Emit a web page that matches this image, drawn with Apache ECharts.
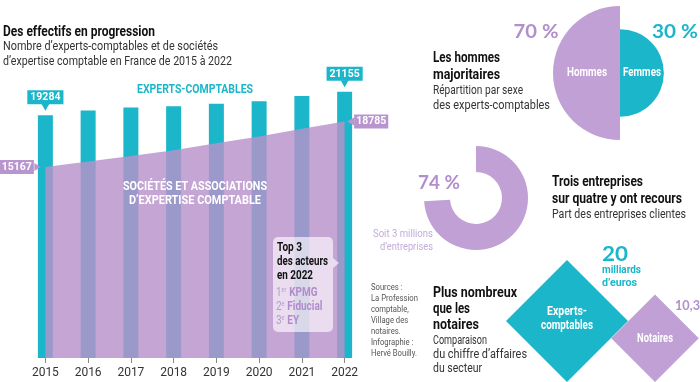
<!DOCTYPE html>
<html><head><meta charset="utf-8">
<script src="https://cdn.jsdelivr.net/npm/echarts@6/dist/echarts.min.js"></script>
<style>html,body{margin:0;padding:0;background:#fff}#c{width:700px;height:382px}</style>
</head><body><div id="c"></div>
<script>
// ---- data ----
const years = ['2015','2016','2017','2018','2019','2020','2021','2022'];
const experts = [19284, 19650, 19900, 20000, 20200, 20400, 20800, 21155];
const societes = [15167, 15600, 16050, 16500, 17050, 17600, 18200, 18785];
const genderLabels = ['Hommes', 'Femmes'];
const genderShare = [70, 30];
const clientShare = [74, 26];
const revenueLabels = ['Experts-\ncomptables', 'Notaires'];
const revenue = [20, 10.3];
const top3 = ['KPMG', 'Fiducial', 'EY'];
const top3Rank = [['1', 'er'], ['2', 'e'], ['3', 'e']];

// ---- style ----
const C = '#1bb6c9', P = '#c0a0d5', PD = '#b28fcc';
const F = "Roboto,'Liberation Sans',sans-serif";
const FR = "Lato,'Open Sans',sans-serif";
const fmt = v => String(v);

const mctx = document.createElement('canvas').getContext('2d');
function fitScale(text, size, weight, fam, target) {
  if (!target) return 1;
  mctx.font = weight + ' ' + size + 'px ' + fam;
  const w = Math.max(...String(text).split('\n').map(s => mctx.measureText(s).width));
  return target / w;
}
function T(x, y, text, size, weight, fill, align, target, fam, extra) {
  fam = fam || F;
  const s = fitScale(text, size, weight, fam, target);
  return Object.assign({
    type: 'text', x: x, y: y, z: 100, silent: true, scaleX: s,
    style: {
      text: text, fontSize: size, fontWeight: weight, fontFamily: fam,
      fill: fill, align: align || 'left', verticalAlign: 'middle'
    }
  }, extra || {});
}

const last = years.length - 1;
const barData = experts.map((v, i) => (i === 0 || i === last) ? { value: v, label: { show: true } } : v);
const lineData = societes.map((v, i) => (i === 0 || i === last) ? {
  value: v, label: { show: true, position: i === 0 ? 'left' : 'right', distance: i === 0 ? 11 : 9 }
} : v);

const gMax = Math.max(...genderShare);
const R0 = 67;
const gR = genderShare.map(v => R0 * Math.sqrt(v / gMax));
const revMax = Math.max(...revenue);
const D0 = 122;
const revSize = revenue.map(v => D0 * Math.sqrt(v / revMax));
const revX = [567, 655]; // label anchor x (layout)

const chart = echarts.init(document.getElementById('c'), null, { renderer: 'canvas' });
chart.setOption({
  animation: false,
  backgroundColor: '#fff',
  grid: [
    { left: 24, right: 334, top: 81, bottom: 24 },
    { left: 523, width: 176, bottom: 0, height: 10 }
  ],
  xAxis: [
    {
      gridIndex: 0, type: 'category', data: years,
      axisLine: { show: false },
      axisTick: { show: true, alignWithLabel: true, length: 5, lineStyle: { color: '#888' } },
      axisLabel: { color: '#333', fontSize: 12, fontFamily: F, margin: 9 }
    },
    { gridIndex: 1, type: 'category', data: revenueLabels, show: false }
  ],
  yAxis: [
    { gridIndex: 0, type: 'value', min: 0, max: 22000, show: false, splitLine: { show: false } },
    { gridIndex: 1, type: 'value', min: 0, max: 1, show: false }
  ],
  series: [
    {
      type: 'bar', xAxisIndex: 0, yAxisIndex: 0, data: barData, barWidth: 15,
      itemStyle: { color: C },
      label: {
        show: false, position: 'top', distance: 11, formatter: p => fmt(p.value),
        backgroundColor: C, color: '#fff', fontWeight: 'bold', fontSize: 10.5, fontFamily: F,
        padding: [2, 3, 1, 3]
      },
      markPoint: {
        silent: true, label: { show: false },
        itemStyle: { color: C },
        data: [0, last].map(i => ({
          coord: [years[i], experts[i]], symbol: 'triangle', symbolRotate: 180,
          symbolSize: [8, 7], symbolOffset: [0, -8]
        }))
      }
    },
    {
      type: 'line', xAxisIndex: 0, yAxisIndex: 0, data: lineData,
      symbol: 'circle', symbolSize: 1, showSymbol: true,
      itemStyle: { color: 'rgba(0,0,0,0)' },
      lineStyle: { width: 0 }, z: 3,
      areaStyle: { color: 'rgba(184,145,202,0.82)', opacity: 1 },
      label: {
        show: false, formatter: p => fmt(p.value),
        backgroundColor: '#b895cf', color: '#fff', fontWeight: 'bold', fontSize: 10.5, fontFamily: F,
        padding: [2, 2, 1, 2]
      },
      markPoint: {
        silent: true, label: { show: false },
        itemStyle: { color: '#b895cf' },
        data: [
          { coord: [years[0], societes[0]], symbol: 'triangle', symbolRotate: -90, symbolSize: [8, 6], symbolOffset: [-8, 0] },
          { coord: [years[last], societes[last]], symbol: 'triangle', symbolRotate: 90, symbolSize: [8, 7], symbolOffset: [6, 0] }
        ]
      }
    },
    {
      type: 'pie', center: [620, 73], radius: [0, gR[0]], startAngle: 90, clockwise: false, silent: true,
      label: { show: false }, labelLine: { show: false },
      data: [
        { value: genderShare[0], name: genderLabels[0], itemStyle: { color: P } },
        { value: genderShare[0], name: '', itemStyle: { color: 'rgba(0,0,0,0)' } }
      ]
    },
    {
      type: 'pie', center: [620, 73], radius: [0, gR[1]], startAngle: 90, clockwise: true, silent: true,
      label: { show: false }, labelLine: { show: false },
      data: [
        { value: genderShare[1], name: genderLabels[1], itemStyle: { color: C } },
        { value: genderShare[1], name: '', itemStyle: { color: 'rgba(0,0,0,0)' } }
      ]
    },
    {
      type: 'pie', center: [476, 198], radius: [26, 52], startAngle: 90, clockwise: true, silent: true,
      label: { show: false }, labelLine: { show: false },
      data: [
        { value: clientShare[0], name: 'clientes', itemStyle: { color: P } },
        { value: clientShare[1], name: 'autres', itemStyle: { color: 'rgba(0,0,0,0)' } }
      ]
    },
    {
      type: 'scatter', xAxisIndex: 1, yAxisIndex: 1, clip: false, silent: true,
      data: revenue.map((v, i) => ({
        value: [i, 0], name: revenueLabels[i], symbol: 'diamond',
        symbolSize: revSize[i], symbolOffset: [0, -revSize[i] / 2],
        itemStyle: { color: i === 0 ? C : P, opacity: 1 }
      })),
      label: { show: false }
    }
  ],
  graphic: { elements: [
    T(3, 32, 'Des effectifs en progression', 14.5, 'bold', '#111', 'left', 152),
    T(3, 47, 'Nombre d’experts-comptables et de sociétés', 12.5, 'normal', '#333', 'left', 215),
    T(3, 62, 'd’expertise comptable en France de 2015 à 2022', 12.5, 'normal', '#333', 'left', 229),
    T(195, 90, 'EXPERTS-COMPTABLES', 13, 'bold', C, 'center', 116),
    T(195, 187, 'SOCIÉTÉS ET ASSOCIATIONS', 13, 'bold', '#fff', 'center', 144),
    T(195, 201, 'D’EXPERTISE COMPTABLE', 13, 'bold', '#fff', 'center', 132),
    { type: 'rect', z: 90, silent: true, shape: { x: 273, y: 237, width: 60, height: 95, r: 5 }, style: { fill: 'rgba(255,255,255,0.62)' } },
    { type: 'polygon', z: 90, silent: true, shape: { points: [[333, 258], [339, 263], [333, 268]] }, style: { fill: 'rgba(255,255,255,0.62)' } },
    T(277, 248, 'Top 3', 13, 'bold', '#111', 'left', 25),
    T(277, 262, 'des acteurs', 13, 'bold', '#111', 'left', 51),
    T(277, 276, 'en 2022', 13, 'bold', '#111', 'left', 36),
    ...top3.map((n, i) => ({
      type: 'text', x: 276, y: 293 + i * 14, z: 100, silent: true, scaleX: 0.8,
      style: {
        text: '{a|' + top3Rank[i][0] + '}{b|' + top3Rank[i][1] + '} {c|' + n + '}',
        verticalAlign: 'middle',
        rich: {
          a: { fontSize: 12.5, fontFamily: F, fill: '#b79bd0', fontWeight: 'normal' },
          b: { fontSize: 7, fontFamily: F, fill: '#b79bd0', verticalAlign: 'top', padding: [0, 0, 6, 0] },
          c: { fontSize: 12.5, fontFamily: F, fill: '#b08ccb', fontWeight: 'bold' }
        }
      }
    })),
    {
      type: 'text', x: 371, y: 282, z: 100, silent: true, scaleX: 0.85,
      style: {
        text: 'Sources :\nLa Profession\ncomptable,\nVillage des\nnotaires.\nInfographie :\nHervé Bouilly.',
        fontSize: 9, fontFamily: F, fill: '#555', lineHeight: 11
      }
    },
    T(536, 32, genderShare[0] + ' %', 19, 'bold', PD, 'center', 45, FR),
    T(675, 32, genderShare[1] + ' %', 19, 'bold', C, 'center', 46, FR),
    T(587, 73, genderLabels[0], 12, 'bold', '#fff', 'center', 40),
    T(642, 73, genderLabels[1], 12, 'bold', '#fff', 'center', 38),
    T(433, 58, 'Les hommes', 14.5, 'bold', '#111', 'left', 67),
    T(433, 75, 'majoritaires', 14.5, 'bold', '#111', 'left', 67),
    T(433, 91, 'Répartition par sexe', 12, 'normal', '#333', 'left', 90),
    T(433, 106, 'des experts-comptables', 12, 'normal', '#333', 'left', 117),
    T(439, 183, clientShare[0] + ' %', 19, 'bold', PD, 'center', 42, FR),
    T(433, 234, 'Soit 3 millions', 11, 'normal', '#c4acd9', 'right', 60),
    T(433, 247, 'd’entreprises', 11, 'normal', '#c4acd9', 'right', 53),
    T(552, 182, 'Trois entreprises', 14.5, 'bold', '#111', 'left', 91),
    T(552, 199, 'sur quatre y ont recours', 14.5, 'bold', '#111', 'left', 130),
    T(552, 215, 'Part des entreprises clientes', 12, 'normal', '#333', 'left', 134),
    T(433, 293, 'Plus nombreux', 15, 'bold', '#111', 'left', 84),
    T(433, 309, 'que les', 15, 'bold', '#111', 'left', 37),
    T(433, 325, 'notaires', 15, 'bold', '#111', 'left', 46),
    T(433, 341, 'Comparaison', 12.5, 'normal', '#333', 'left', 54),
    T(433, 355, 'du chiffre d’affaires', 12.5, 'normal', '#333', 'left', 94),
    T(433, 369, 'du secteur', 12.5, 'normal', '#333', 'left', 49),
    T(revX[0], 312, 'Experts-', 12, 'bold', '#fff', 'center', 40),
    T(revX[0], 326, 'comptables', 12, 'bold', '#fff', 'center', 52),
    T(revX[1], 339, revenueLabels[1], 12, 'bold', '#fff', 'center', 36),
    T(602, 255, String(revenue[0]), 20, 'bold', C, 'left', 26, FR),
    T(602, 270, 'milliards', 11.5, 'bold', C, 'left', 39),
    T(602, 283, 'd’euros', 11.5, 'bold', C, 'left', 35),
    T(675, 305, String(revenue[1]).replace('.', ','), 14, 'bold', PD, 'left', 25, FR)
  ] }
});
</script>
</body></html>
